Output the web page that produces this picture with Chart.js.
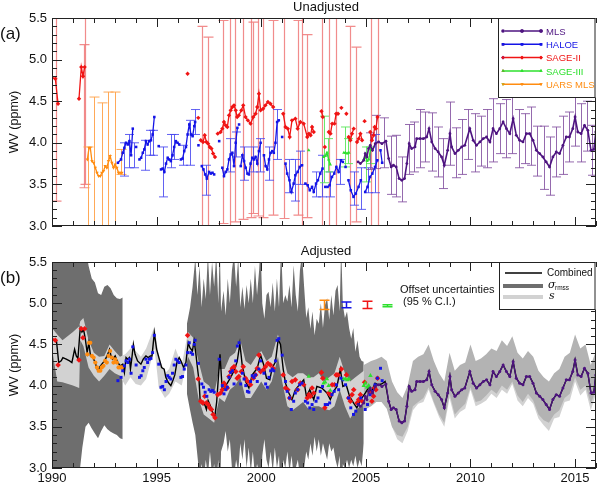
<!DOCTYPE html>
<html>
<head>
<meta charset="utf-8">
<script src="https://cdn.jsdelivr.net/npm/chart.js@4.4.1/dist/chart.umd.min.js"></script>
<style>
    html, body { margin: 0; padding: 0; background: #fff; }
    #wrap { width: 600px; height: 484px; }
    canvas { display: block; }
</style>
</head>
<body>
<div id="wrap">
    <canvas id="chartTop" width="600" height="242"></canvas>
    <canvas id="chartBottom" width="600" height="242"></canvas>
</div>
<script>
const FONT = "'Liberation Sans', Arial, Helvetica, sans-serif";

// ---- ejes
const xTickYears = [1990, 1995, 2000, 2005, 2010, 2015];
const yTickValues = [3.0, 3.5, 4.0, 4.5, 5.0, 5.5];

// ---- series sin ajustar (null = corte de la línea)
const mlsYear = [2004.63, 2004.74, 2004.90, 2004.97, 2005.05, 2005.13, 2005.21, 2005.32, 2005.45, 2005.61, 2005.77, 2005.96,
    2006.09, 2006.21, 2006.32, 2006.45, 2006.59, 2006.72, 2006.85, 2006.96, 2007.07, 2007.19, 2007.35, 2007.43, 2007.59,
    2007.75, 2007.91, 2008.02, 2008.15, 2008.31, 2008.46, 2008.62, 2008.75, 2008.91, 2009.02, 2009.10, 2009.26, 2009.42,
    2009.58, 2009.73, 2009.97, 2010.13, 2010.29, 2010.45, 2010.61, 2010.77, 2010.93, 2011.08, 2011.24, 2011.40, 2011.56,
    2011.72, 2011.88, 2012.04, 2012.19, 2012.35, 2012.51, 2012.67, 2012.83, 2012.99, 2013.15, 2013.31, 2013.46, 2013.62,
    2013.78, 2013.94, 2014.10, 2014.26, 2014.42, 2014.58, 2014.73, 2014.89, 2015.00, 2015.13, 2015.29, 2015.45, 2015.61,
    2015.76, 2015.90, 2015.99];
const mlsWV = [3.77, 3.75, 3.79, 3.87, 3.83, 3.93, 3.97, 3.91, 3.99, 4.01, 3.99, 4.02,
    3.81, 3.71, 3.73, 3.71, 3.57, 3.55, 3.57, 3.75, 3.99, 3.93, 3.95, 4.05, 4.05,
    4.05, 4.07, 4.17, 4.01, 3.93, 3.89, 3.83, 3.73, 3.91, 4.11, 3.95, 3.87, 3.91,
    3.95, 3.97, 4.17, 4.03, 3.97, 4.01, 4.05, 4.07, 4.01, 4.17, 4.11, 4.17, 4.25,
    4.17, 4.11, 4.29, 4.09, 4.03, 4.01, 4.11, 4.11, 4.03, 3.91, 3.87, 3.83, 3.77,
    3.71, 3.83, 3.89, 3.87, 3.97, 4.07, 4.07, 4.17, 4.31, 4.13, 4.11, 4.21, 4.15,
    3.91, 3.92, 4.13];

const haloeYear = [1993.15, 1993.30, 1993.38, 1993.46, 1993.54, 1993.62, 1993.70, 1993.78, 1993.86, 1993.94, 1994.02, 1994.10,
    1994.18, 1994.26, 1994.34, 1994.41, 1994.49, 1994.57, 1994.65, 1994.73, 1994.81, 1994.89, 1995.00, 1995.10, 1995.15,
    1995.21, 1995.29, 1995.37, 1995.45, 1995.53, 1995.60, 1995.68, 1995.76, 1995.84, 1995.92, 1996.00, 1996.08, 1996.12,
    1996.16, 1996.24, 1996.32, 1996.40, 1996.48, 1996.56, 1996.64, 1996.72, 1996.80, 1996.84, 1996.92, 1997.00, 1997.08,
    1997.16, 1997.24, 1997.32, 1997.40, 1997.51, 1997.59, 1997.67, 1997.75, 1997.87, 1997.99, 1998.06,
    1998.14, 1998.22, 1998.30, 1998.38, 1998.46, 1998.54, 1998.62, 1998.70, 1998.78, 1998.86, 1998.90, 1998.94, 1998.98,
    1999.02, 1999.10, 1999.18, 1999.26, 1999.34, 1999.41, 1999.49, 1999.57, 1999.65, 1999.73, 1999.81, 1999.89, 1999.97, 2000.05,
    2000.13, 2000.21, 2000.29, 2000.37, 2000.45, 2000.53, 2000.60, 2000.68, 2000.76, 2000.84, 2000.92, 2001.00, 2001.08,
    2001.16, 2001.24, 2001.35, 2001.44, 2001.55, 2001.63, 2001.74, 2001.84, 2001.95, 2002.03,
    2002.11, 2002.22, 2002.32, 2002.43, 2002.51, 2002.62, 2002.71, 2002.82, 2002.93, 2003.00,
    2003.06, 2003.17, 2003.27, 2003.38, 2003.49, 2003.59, 2003.70, 2003.81, 2003.90, 2003.96, 2004.03, 2004.10,
    2004.17, 2004.28, 2004.41, 2004.52, 2004.65, 2004.76, 2004.87,
    2004.97, 2005.08, 2005.20, 2005.31, 2005.44, 2005.55, 2005.62, 2005.70, 2005.78];
const haloeWV = [3.76, 3.80, 3.88, 3.94, 4.00, 3.98, 4.02, 3.85, 4.17, null, 3.95, null,
    3.80, 3.82, 3.88, 3.92, 4.02, 3.98, 4.02, 4.03, 4.10, 4.31, null, 3.96, null,
    3.68, 3.69, 3.65, 3.75, 3.82, 3.80, 3.78, 3.85, 3.95, 4.02, 4.00, 3.98, null,
    3.80, 3.81, 3.90, 3.95, 4.10, 4.22, 4.10, 4.08, 4.20, 4.25, null, 3.97, null,
    3.72, 3.68, 3.62, 3.57, 3.65, 3.63, 3.64, 3.62, null, 4.02, null,
    3.70, 3.60, 3.65, 3.68, 3.80, 3.86, 3.88, 3.72, 4.00, 4.18, null, 4.22, null,
    3.72, 3.85, 3.78, 3.70, 3.63, 3.62, 3.75, 3.82, 3.80, 3.83, 3.75, 3.90, 4.00, null,
    3.85, 3.72, 3.68, 3.80, 3.88, 3.90, 3.88, 4.00, 4.25, 4.27, null, 4.07, null,
    3.75, 3.63, 3.55, 3.41, 3.51, 3.61, 3.65, 3.71, 3.73, null,
    3.51, 3.49, 3.43, 3.47, 3.41, 3.51, 3.55, 3.63, 3.69, null,
    3.47, 3.47, 3.49, 3.59, 3.63, 3.71, 3.65, 3.79, 3.77, null, 3.71, null,
    3.55, 3.43, 3.35, 3.39, 3.47, 3.55, null,
    3.41, 3.47, 3.59, 3.63, 3.71, 3.79, null, 3.91, 3.76];

const sage2Year = [1990.00, 1990.16, 1990.29, 1990.80, 1991.29, 1991.40, 1991.48, 1991.56, 1992.00, 1996.48, 1996.75, 1996.99, 1997.05,
    1997.11, 1997.22, 1997.30, 1997.38, 1997.46, 1997.54, 1997.62, 1997.70, 1997.79, 1997.85,
    1997.92, 1998.06, 1998.14, 1998.22, 1998.30, 1998.38, 1998.46, 1998.54, 1998.62, 1998.70, 1998.78, 1998.85, 1998.93,
    1999.05, 1999.14, 1999.25, 1999.36, 1999.49, 1999.62, 1999.73, 1999.81, 1999.89, 1999.97, 2000.09, 2000.20, 2000.32,
    2000.44, 2000.57, 2000.80, 2001.05, 2001.16, 2001.27, 2001.36, 2001.47, 2001.63, 2001.74, 2001.87, 2002.03, 2002.20,
    2002.28, 2002.36, 2002.43, 2002.51, 2002.70, 2002.88, 2002.94, 2002.99, 2003.04, 2003.12, 2003.23, 2003.31, 2003.39,
    2003.50, 2003.58, 2003.67, 2003.75, 2003.83, 2003.95, 2004.07, 2004.12, 2004.18, 2004.26, 2004.34, 2004.42, 2004.50,
    2004.58, 2004.66, 2004.74, 2004.82, 2004.88, 2004.94, 2005.10, 2005.21, 2005.29, 2005.37, 2005.42, 2005.48, 2005.56];
const sage2WV = [4.78, 4.77, 4.47, null, 4.53, 4.91, 4.80, 4.91, null, 4.83, null, 4.30, null,
    4.03, 4.01, 4.09, 4.01, 3.99, 3.95, 3.93, 3.87, 3.83, null,
    4.11, 4.13, 4.17, 4.25, 4.21, 4.19, 4.33, 4.39, 4.43, 4.45, 4.39, 4.31, 4.33,
    4.39, 4.45, 4.31, 4.27, 4.23, 4.31, 4.35, 4.43, 4.59, 4.39, 4.41, 4.45, 4.49,
    4.47, 4.43, null, 4.35, 4.19, 4.17, 4.07, 4.27, 4.29, 4.17, 4.25, 4.23, 4.07,
    4.11, 4.09, 4.19, 4.13, null, 4.38, 4.31, null, 3.95, null, 4.13, 4.11, 4.23,
    4.23, 4.35, 4.35, null, 4.42, null, 4.35, null, 4.07, 4.03, 4.11, 4.17, null,
    4.01, 4.05, 4.11, 4.03, null, 4.26, null, 4.13, 4.03, 4.09, 4.19, 4.17, 4.31];

const sage3Year = [2002.27, 2002.60, 2002.98, 2003.06, 2003.14, 2003.22, 2003.30, 2003.60, 2003.95, 2004.03, 2004.11, 2004.19,
    2004.50, 2004.90, 2004.98, 2005.06, 2005.14, 2005.22];
const sage3WV = [3.91, null, 3.83, 3.84, 3.88, 3.80, 3.74, null, 3.88, 3.88, 3.87, 3.88,
    null, 3.80, 3.83, 3.78, 3.80, 3.92];

const uarsYear = [1991.69, 1991.77, 1991.83, 1991.91, 1991.99, 1992.07, 1992.15, 1992.23, 1992.31, 1992.38, 1992.46,
    1992.54, 1992.62, 1992.70, 1992.78, 1992.86, 1992.94, 1993.02, 1993.10, 1993.18, 1993.26, 1993.34];
const uarsWV = [3.80, 3.94, 3.94, 3.78, 3.76, 3.70, 3.64, 3.60, 3.60, 3.64, 3.66,
    3.72, 3.70, 3.78, 3.84, 3.76, 3.70, 3.74, 3.70, 3.64, 3.64, 3.64];

// ---- barras de error: [año, centro, semiancho]
const mlsErr = [[2005.20, 3.90, 0.22], [2005.50, 4.01, 0.32], [2005.85, 4.00, 0.30], [2006.20, 3.73, 0.35], [2006.45, 3.72, 0.37],
    [2006.75, 3.56, 0.27], [2007.05, 3.92, 0.30], [2007.30, 3.95, 0.30], [2007.60, 4.05, 0.35], [2007.85, 4.07, 0.30],
    [2008.15, 4.01, 0.35], [2008.45, 3.89, 0.30], [2008.70, 3.75, 0.30], [2009.00, 4.11, 0.38], [2009.30, 3.88, 0.30],
    [2009.60, 3.95, 0.33], [2009.90, 4.10, 0.30], [2010.20, 4.00, 0.35], [2010.50, 4.02, 0.30], [2010.80, 4.05, 0.35],
    [2011.10, 4.15, 0.38], [2011.40, 4.17, 0.30], [2011.70, 4.17, 0.35], [2012.00, 4.25, 0.38], [2012.30, 4.05, 0.35],
    [2012.60, 4.05, 0.30], [2012.90, 4.08, 0.35], [2013.20, 3.90, 0.30], [2013.50, 3.82, 0.38], [2013.80, 3.72, 0.35],
    [2014.10, 3.89, 0.30], [2014.40, 3.97, 0.35], [2014.70, 4.07, 0.30], [2015.00, 4.31, 0.35], [2015.30, 4.12, 0.35],
    [2015.55, 4.20, 0.30], [2015.80, 3.91, 0.30]];
const haloeErr = [[1993.45, 3.80, 0.20], [1993.70, 3.90, 0.20], [1993.90, 3.85, 0.15], [1994.45, 3.85, 0.18], [1994.70, 4.00, 0.15],
    [1994.85, 4.00, 0.15], [1995.30, 3.65, 0.30], [1995.70, 3.90, 0.20], [1995.85, 3.95, 0.15], [1996.25, 3.85, 0.12],
    [1996.60, 4.00, 0.27], [1996.85, 4.25, 0.15], [1997.35, 3.55, 0.18], [1998.50, 3.85, 0.20], [1998.80, 3.98, 0.15],
    [1999.20, 3.75, 0.20], [1999.60, 3.80, 0.15], [1999.95, 3.85, 0.20], [2000.35, 3.75, 0.20], [2000.75, 4.10, 0.30],
    [2001.35, 3.60, 0.20], [2001.60, 3.55, 0.25], [2001.85, 3.70, 0.20], [2002.60, 3.50, 0.15], [2002.90, 3.60, 0.25],
    [2003.30, 3.50, 0.15], [2003.75, 3.65, 0.15], [2004.45, 3.45, 0.20], [2004.75, 3.45, 0.25], [2005.10, 3.55, 0.15],
    [2005.45, 3.75, 0.35]];
const sage2Err = [[1990.18, 4.45, 1.15], [1991.55, 4.32, 0.86], [1991.60, 4.60, 1.10], [1997.17, 4.20, 1.20], [1997.45, 4.13, 1.14],
    [1998.15, 4.25, 1.22], [1998.50, 4.30, 1.30], [1998.75, 4.35, 1.30], [1999.15, 4.30, 1.22], [1999.50, 4.40, 1.30],
    [1999.62, 4.30, 1.15], [1999.85, 4.40, 1.28], [2000.10, 4.40, 1.30], [2000.55, 4.30, 1.17], [2001.10, 4.35, 1.26],
    [2001.75, 4.30, 1.17], [2001.95, 4.30, 1.30], [2002.20, 4.20, 1.10], [2002.90, 4.30, 1.30], [2003.25, 4.30, 1.30],
    [2003.55, 4.30, 1.30], [2004.25, 4.20, 1.20], [2004.55, 4.10, 1.05], [2005.25, 4.20, 1.30], [2005.56, 4.30, 1.30]];
const sage3Err = [[2003.00, 3.92, 0.40], [2003.20, 3.85, 0.20], [2004.00, 3.95, 0.24], [2004.15, 3.90, 0.15],
    [2005.00, 3.74, 0.21], [2005.20, 3.85, 0.10]];
const uarsErr = [[1991.72, 3.20, 0.75], [1992.00, 3.75, 0.80], [1992.38, 3.65, 0.83], [1992.70, 3.78, 0.83],
    [1993.02, 3.75, 0.86], [1993.30, 3.77, 0.15]];

// ---- desplazamientos aplicados a cada instrumento (panel b)
const offsetHALOE = 0.30;
const offsetSAGE2 = -0.22;
const offsetSAGE3 = 0.20;
const offsetUARS = 0.58;
const offsetMLS = 0.0;

// ---- serie combinada (antes de 2006; después sigue a MLS)
const combYear = [1990.05, 1990.21, 1990.32, 1990.44, 1990.52, 1990.68, 1990.84, 1990.95, 1991.08, 1991.16, 1991.24, 1991.35,
    1991.43, 1991.51, 1991.59, 1991.68, 1991.76, 1991.84, 1991.95, 1992.03, 1992.11, 1992.19, 1992.27, 1992.38, 1992.51,
    1992.63, 1992.75, 1992.82, 1992.90, 1993.02, 1993.14, 1993.27, 1993.38, 1993.46, 1993.54, 1993.62, 1993.70, 1993.75,
    1993.81, 1993.89, 1993.97, 1994.09, 1994.25, 1994.36, 1994.49, 1994.60, 1994.70, 1994.78, 1994.89, 1995.00, 1995.13,
    1995.24, 1995.36, 1995.44, 1995.55, 1995.68, 1995.79, 1995.87, 1995.97, 1996.08, 1996.16, 1996.29, 1996.40, 1996.51,
    1996.59, 1996.71, 1996.79, 1996.87, 1996.95, 1997.03, 1997.08, 1997.19, 1997.30, 1997.38, 1997.46, 1997.59, 1997.67,
    1997.78, 1997.87, 1998.03, 1998.14, 1998.22, 1998.38, 1998.54, 1998.70, 1998.85, 1998.98, 1999.09, 1999.25, 1999.41,
    1999.57, 1999.81, 1999.97, 2000.12, 2000.25, 2000.41, 2000.52, 2000.68, 2000.81, 2000.92, 2001.05, 2001.16, 2001.32,
    2001.47, 2001.63, 2001.79, 2002.03, 2002.16, 2002.32, 2002.51, 2002.66, 2002.90, 2003.14, 2003.30, 2003.46, 2003.62,
    2003.78, 2003.90, 2004.06, 2004.22, 2004.41, 2004.57, 2004.76, 2004.97, 2005.12, 2005.28, 2005.44, 2005.60, 2005.76,
    2005.92];
const combWV = [4.56, 4.55, 4.28, 4.30, 4.34, 4.32, 4.30, 4.28, 4.44, 4.36, 4.33, 4.70,
    4.65, 4.68, 4.57, 4.40, 4.52, 4.36, 4.34, 4.30, 4.24, 4.18, 4.22, 4.26, 4.30,
    4.36, 4.44, 4.36, 4.32, 4.36, 4.28, 4.24, 4.26, 4.16, 4.34, 4.32, 4.34, 4.20,
    4.32, 4.50, 4.38, 4.30, 4.26, 4.32, 4.36, 4.34, 4.36, 4.36, 4.64, 4.44, 4.32,
    4.22, 4.20, 4.10, 4.04, 4.00, 4.07, 4.13, 4.28, 4.34, 4.30, 4.22, 4.28, 4.52,
    4.46, 4.42, 4.54, 4.40, 4.22, 4.05, 3.82, 3.77, 3.77, 3.71, 3.82, 3.74, 3.68,
    3.62, 3.80, 4.38, 3.93, 3.97, 4.03, 4.10, 4.18, 4.29, 4.51, 4.25, 4.05, 3.97,
    4.13, 4.21, 4.37, 4.25, 4.09, 4.07, 4.21, 4.29, 4.56, 4.50, 4.20, 4.03, 3.91,
    3.83, 3.95, 4.00, 4.07, 3.87, 3.95, 3.83, 3.99, 3.97, 3.91, 3.83, 3.93, 3.99,
    4.20, 3.99, 4.01, 3.87, 3.79, 3.73, 3.83, 3.91, 3.97, 3.93, 4.03, 4.01, 4.02,
    4.05];

// ---- banda s (gris claro)
const sYear = [1990.00, 1990.25, 1990.50, 1991.00, 1991.30, 1991.35, 1991.50, 1991.75, 1992.00, 1992.25, 1992.50, 1992.75,
    1993.00, 1993.25, 1993.50, 1993.75, 1994.00, 1994.25, 1994.50, 1994.90, 1995.10, 1995.40, 1995.60, 1995.90, 1996.20,
    1996.50, 1996.75, 1997.00, 1997.25, 1997.50, 1997.75, 1998.00, 1998.25, 1998.50, 1998.75, 1999.00, 1999.25, 1999.50,
    1999.75, 2000.00, 2000.25, 2000.50, 2000.80, 2001.00, 2001.25, 2001.50, 2001.75, 2002.00, 2002.25, 2002.50, 2002.75,
    2003.00, 2003.25, 2003.50, 2003.75, 2004.00, 2004.25, 2004.50, 2004.75, 2005.00, 2005.25, 2005.50, 2005.75, 2006.00,
    2006.25, 2006.50, 2006.75, 2007.00, 2007.25, 2007.50, 2007.75, 2008.00, 2008.25, 2008.50, 2008.75, 2009.00, 2009.25,
    2009.50, 2009.75, 2010.00, 2010.25, 2010.50, 2010.75, 2011.00, 2011.25, 2011.50, 2011.75, 2012.00, 2012.25, 2012.50,
    2012.75, 2013.00, 2013.25, 2013.50, 2013.75, 2014.00, 2014.25, 2014.50, 2014.75, 2015.00, 2015.25, 2015.50, 2015.75,
    2016.00];
const sHigh = [4.70, 4.62, 4.55, 4.65, 4.72, 4.78, 4.82, 4.55, 4.40, 4.35, 4.36, 4.50,
    4.42, 4.35, 4.38, 4.45, 4.42, 4.35, 4.45, 4.72, 4.35, 4.15, 4.20, 4.45, 4.25,
    4.65, 4.58, 4.30, 4.05, 4.00, 3.90, 4.20, 4.20, 4.35, 4.40, 4.55, 4.30, 4.25,
    4.35, 4.42, 4.30, 4.35, 4.62, 4.40, 4.15, 4.10, 4.15, 4.15, 4.10, 4.10, 4.15,
    4.05, 4.10, 4.15, 4.35, 4.15, 4.05, 4.10, 4.15, 4.20, 4.25, 4.28, 4.30, 4.25,
    4.00, 3.85, 3.78, 3.95, 4.25, 4.30, 4.32, 4.45, 4.25, 4.10, 4.00, 4.35, 4.12,
    4.20, 4.22, 4.45, 4.25, 4.28, 4.32, 4.40, 4.38, 4.50, 4.42, 4.55, 4.35, 4.28,
    4.38, 4.30, 4.12, 4.05, 3.98, 4.10, 4.15, 4.30, 4.35, 4.58, 4.40, 4.45, 4.20,
    4.38];
const sLow = [4.45, 4.05, 4.04, 4.00, 3.97, 4.55, 4.48, 4.22, 4.12, 4.05, 4.12, 4.20,
    4.15, 4.12, 4.00, 4.10, 4.02, 4.00, 4.08, 4.45, 3.98, 3.85, 3.90, 4.05, 4.00,
    4.35, 4.22, 3.85, 3.65, 3.60, 3.55, 3.85, 3.80, 3.95, 4.00, 4.10, 3.85, 3.85,
    3.95, 4.05, 3.95, 4.05, 4.35, 4.05, 3.75, 3.70, 3.75, 3.80, 3.72, 3.75, 3.75,
    3.72, 3.70, 3.75, 3.95, 3.75, 3.60, 3.70, 3.75, 3.80, 3.80, 3.85, 3.85, 3.75,
    3.50, 3.35, 3.30, 3.45, 3.70, 3.78, 3.80, 3.95, 3.78, 3.62, 3.50, 3.85, 3.60,
    3.68, 3.72, 3.95, 3.75, 3.78, 3.82, 3.90, 3.85, 3.95, 3.90, 4.02, 3.82, 3.75,
    3.85, 3.78, 3.60, 3.52, 3.45, 3.60, 3.62, 3.80, 3.82, 4.05, 3.88, 3.95, 3.70,
    3.90];

// ---- banda sigma_rmss (gris oscuro), null = sin banda
const sigYear = [1990.00, 1990.30, 1990.60, 1991.00, 1991.30, 1991.45, 1991.60, 1991.75, 1991.90, 1992.05, 1992.20, 1992.35,
    1992.50, 1992.65, 1992.80, 1992.95, 1993.10, 1993.25, 1993.38, 1994.00,
    1996.45, 1996.60, 1996.72, 1996.85, 1996.95, 1997.05, 1997.15, 1997.25, 1997.35, 1997.45, 1997.55, 1997.65, 1997.75,
    1997.85, 1997.95, 1998.02, 1998.08, 1998.20, 1998.30, 1998.40, 1998.50, 1998.60, 1998.70, 1998.80, 1998.90, 1999.00,
    1999.10, 1999.20, 1999.30, 1999.40, 1999.50, 1999.60, 1999.70, 1999.80, 1999.90, 1999.97, 2000.05, 2000.15, 2000.25,
    2000.35, 2000.45, 2000.55, 2000.65, 2000.75, 2000.85, 2000.95, 2001.05, 2001.15, 2001.25, 2001.35, 2001.45, 2001.55,
    2001.65, 2001.75, 2001.85, 2001.95, 2002.05, 2002.15, 2002.25, 2002.35, 2002.45, 2002.55, 2002.65, 2002.75, 2002.85,
    2002.95, 2003.05, 2003.15, 2003.25, 2003.35, 2003.45, 2003.55, 2003.65, 2003.75, 2003.82, 2003.90, 2004.00, 2004.10,
    2004.20, 2004.30, 2004.40, 2004.50, 2004.60, 2004.70, 2004.80, 2004.90];
const sigHigh = [5.80, 5.80, 5.80, 5.80, 5.80, 5.80, 5.70, 5.45, 5.30, 5.25, 5.12, 5.10,
    5.20, 5.22, 5.18, 5.10, 5.06, 5.05, 5.07, null,
    4.75, 4.95, 5.20, 5.55, 5.10, 5.45, 4.95, 5.30, 5.05, 5.60, 5.10, 5.50, 5.20,
    5.60, 5.00, 5.70, 4.90, 5.15, 4.85, 5.30, 5.00, 5.40, 5.60, 5.20, 5.55, 4.95,
    5.20, 4.93, 5.22, 5.00, 5.30, 5.00, 5.45, 5.10, 5.40, 5.70, 5.00, 4.81, 5.10,
    5.14, 4.95, 5.25, 4.90, 5.30, 4.95, 5.70, 5.00, 5.10, 5.02, 5.22, 4.95, 5.46,
    5.10, 4.90, 5.40, 5.60, 5.20, 4.82, 4.95, 4.69, 4.90, 4.61, 4.81, 4.75, 5.00,
    4.70, 4.98, 5.06, 4.80, 5.10, 4.85, 5.15, 5.22, 4.90, 5.70, 4.98, 4.82, 4.90,
    4.70, 4.57, 4.70, 4.41, 4.55, 4.35, 4.30, 4.29];
const sigLow = [2.90, 2.90, 2.90, 2.95, 2.90, 3.25, 3.50, 3.55, 3.48, 3.42, 3.36, 3.45,
    3.52, 3.47, 3.44, 3.42, 3.40, 3.36, 3.35, null,
    3.90, 3.70, 3.55, 3.40, 3.15, 2.90, 3.05, 2.85, 3.10, 2.90, 3.20, 2.90, 3.05,
    2.85, 3.10, 2.50, 3.20, 3.30, 3.45, 3.20, 3.35, 3.00, 2.90, 3.10, 2.95, 3.30,
    3.10, 3.35, 3.00, 3.25, 2.95, 3.20, 2.90, 3.05, 2.95, 2.50, 3.15, 3.35, 3.10,
    3.00, 3.20, 2.95, 3.25, 3.00, 3.15, 2.50, 3.10, 3.00, 3.20, 2.95, 3.15, 2.90,
    3.00, 3.10, 2.90, 2.90, 3.00, 3.20, 3.10, 3.30, 3.15, 3.38, 3.20, 3.35, 3.15,
    3.30, 3.20, 3.10, 3.30, 3.20, 3.25, 3.10, 3.00, 3.15, 2.50, 3.05, 3.00, 3.10,
    3.00, 3.10, 3.02, 3.15, 3.00, 3.10, 3.02, 3.30];

// sigma_rmss en el periodo MLS (gris medio)
const sigLateYear = [2004.90, 2005.25, 2005.50, 2005.75, 2006.00, 2006.25, 2006.50, 2006.75, 2007.00, 2007.25, 2007.50,
    2007.75, 2008.00, 2008.25, 2008.50, 2008.75, 2009.00, 2009.25, 2009.50, 2009.75, 2010.00, 2010.25, 2010.50, 2010.75,
    2011.00, 2011.25, 2011.50, 2011.75, 2012.00, 2012.25, 2012.50, 2012.75, 2013.00, 2013.25, 2013.50, 2013.75, 2014.00,
    2014.25, 2014.50, 2014.75, 2015.00, 2015.25, 2015.50, 2015.75, 2016.00];
const sigLateHigh = [4.25, 4.30, 4.32, 4.35, 4.30, 4.05, 3.92, 3.85, 4.00, 4.30, 4.35,
    4.38, 4.50, 4.30, 4.15, 4.05, 4.40, 4.18, 4.25, 4.28, 4.50, 4.30, 4.33, 4.38,
    4.45, 4.42, 4.55, 4.48, 4.60, 4.40, 4.33, 4.42, 4.35, 4.18, 4.10, 4.05, 4.15,
    4.20, 4.35, 4.40, 4.62, 4.45, 4.50, 4.25, 4.42];
const sigLateLow = [3.70, 3.75, 3.80, 3.80, 3.72, 3.50, 3.40, 3.38, 3.50, 3.75, 3.80,
    3.85, 3.98, 3.80, 3.65, 3.55, 3.90, 3.65, 3.72, 3.78, 3.98, 3.80, 3.82, 3.88,
    3.95, 3.90, 4.00, 3.95, 4.05, 3.88, 3.80, 3.90, 3.82, 3.65, 3.58, 3.55, 3.65,
    3.70, 3.85, 3.90, 4.10, 3.95, 4.00, 3.78, 3.95];

// ---- incertidumbre de los desplazamientos (95 % C.I.)
const offsetBarYear = [2003.00, 2004.05, 2005.05, 2006.00];
const offsetBarCentre = [4.98, 4.98, 4.98, 4.97];
const offsetBarHalf = [0.055, 0.035, 0.045, 0.012];

// ---- colores
const colMLS = '#4e1480';
const colHALOE = '#1414e6';
const colSAGE2 = '#f01414';
const colSAGE3 = '#2ee02e';
const colUARS = '#ff8c10';
const legendNames = ['MLS', 'HALOE', 'SAGE-II', 'SAGE-III', 'UARS MLS'];
const legendColors = [colMLS, colHALOE, colSAGE2, colSAGE3, colUARS];
const legendPoints = ['circle', 'rect', 'rectRot', 'triangle', 'triangle'];

function puntos(xs, ys, off) {
    off = off || 0;
    return xs.map((x, i) => ({ x: x, y: ys[i] === null ? null : ys[i] + off }));
}

function serie(label, xs, ys, color, pstyle, extra) {
    return Object.assign({
        label: label,
        type: 'line',
        data: puntos(xs, ys),
        borderColor: color,
        backgroundColor: color,
        borderWidth: 1.3,
        pointRadius: 1.8,
        pointStyle: pstyle,
        pointBorderWidth: 0,
        pointBackgroundColor: color,
        tension: 0,
        fill: false,
        spanGaps: false
    }, extra || {});
}

function marcas(label, xs, ys, off, color, pstyle, radius, extra) {
    return Object.assign({
        label: label,
        type: 'line',
        data: puntos(xs, ys, off),
        showLine: false,
        borderColor: color,
        backgroundColor: color,
        pointRadius: radius,
        pointStyle: pstyle,
        pointBorderWidth: 0,
        pointBackgroundColor: color,
        fill: false
    }, extra || {});
}

// bandas: parte por null en tramos
function banda(xs, hi, lo, color, order) {
    const tramos = [];
    let actual = null;
    xs.forEach((x, i) => {
        if (hi[i] === null) { actual = null; return; }
        if (!actual) { actual = { hi: [], lo: [] }; tramos.push(actual); }
        actual.hi.push({ x: x, y: hi[i] });
        actual.lo.push({ x: x, y: lo[i] });
    });
    const out = [];
    tramos.forEach(t => {
        out.push({ type: 'line', data: t.hi, borderColor: 'rgba(0,0,0,0)', borderWidth: 1, pointRadius: 0, fill: false, order: order + 1 });
        out.push({ type: 'line', data: t.lo, borderColor: 'rgba(0,0,0,0)', borderWidth: 1, pointRadius: 0, fill: '-1', backgroundColor: color, order: order });
    });
    return out;
}

function barrasError(sets) {
    return {
        id: 'barrasError',
        beforeDatasetsDraw(chart) {
            const { ctx, chartArea: a, scales: { x, y } } = chart;
            ctx.save();
            ctx.beginPath();
            ctx.rect(a.left, a.top, a.right - a.left, a.bottom - a.top);
            ctx.clip();
            sets.forEach(s => {
                ctx.strokeStyle = s.color;
                ctx.lineWidth = s.width;
                s.data.forEach(e => {
                    const px = Math.round(x.getPixelForValue(e[0])) + 0.5;
                    const t = y.getPixelForValue(e[1] + e[2]);
                    const b = y.getPixelForValue(e[1] - e[2]);
                    ctx.beginPath();
                    ctx.moveTo(px, t); ctx.lineTo(px, b);
                    ctx.moveTo(px - s.cap, t); ctx.lineTo(px + s.cap, t);
                    ctx.moveTo(px - s.cap, b); ctx.lineTo(px + s.cap, b);
                    ctx.stroke();
                });
            });
            ctx.restore();
        }
    };
}

// marco con marcas hacia dentro en los cuatro lados
const marco = {
    id: 'marco',
    afterDatasetsDraw(chart) {
        const { ctx, chartArea: a, scales: { x, y } } = chart;
        ctx.save();
        ctx.strokeStyle = '#222';
        ctx.lineWidth = 1;
        ctx.beginPath();
        for (let v = 30; v <= 55; v++) {
            const py = Math.round(y.getPixelForValue(v / 10)) + 0.5;
            const len = v % 5 === 0 ? 10 : 5;
            ctx.moveTo(a.left, py); ctx.lineTo(a.left + len, py);
            ctx.moveTo(a.right, py); ctx.lineTo(a.right - len, py);
        }
        for (let yr = 1990; yr <= 2016; yr++) {
            const px = Math.round(x.getPixelForValue(yr)) + 0.5;
            const len = yr % 5 === 0 ? 9 : 5;
            ctx.moveTo(px, a.top); ctx.lineTo(px, a.top + len);
            ctx.moveTo(px, a.bottom); ctx.lineTo(px, a.bottom - len);
        }
        ctx.stroke();
        ctx.strokeRect(a.left + 0.5, a.top + 0.5, a.right - a.left - 1, a.bottom - a.top - 1);
        ctx.restore();
    }
};

function textos(panel, titulo) {
    return {
        id: 'textos',
        afterDraw(chart) {
            const { ctx, chartArea: a } = chart;
            ctx.save();
            ctx.fillStyle = '#111';
            ctx.font = '13px ' + FONT;
            ctx.textAlign = 'center';
            ctx.textBaseline = 'middle';
            ctx.fillText(titulo, 326, a.top - 11);
            ctx.font = '17px ' + FONT;
            ctx.textAlign = 'left';
            ctx.fillText(panel, 0, a.top + 16);
            ctx.translate(15, (a.top + a.bottom) / 2);
            ctx.rotate(-Math.PI / 2);
            ctx.textAlign = 'center';
            ctx.font = '12.5px ' + FONT;
            ctx.fillText('WV (ppmv)', 0, 0);
            ctx.restore();
        }
    };
}

const leyendaArriba = {
    id: 'leyendaArriba',
    afterDraw(chart) {
        const { ctx, chartArea: a } = chart;
        ctx.save();
        const x0 = 498.5, y0 = a.top + 0.5;
        ctx.fillStyle = '#fff';
        ctx.fillRect(x0, y0, a.right - x0, 79);
        ctx.strokeStyle = '#222';
        ctx.lineWidth = 1;
        ctx.strokeRect(x0, y0, a.right - x0 - 1, 79);
        ctx.font = '9.5px ' + FONT;
        ctx.textBaseline = 'middle';
        legendNames.forEach((n, i) => {
            const yy = a.top + 13 + i * 13.3;
            ctx.strokeStyle = legendColors[i];
            ctx.lineWidth = 1.5;
            ctx.beginPath();
            ctx.moveTo(503, yy); ctx.lineTo(541, yy);
            ctx.stroke();
            [503, 522, 541].forEach(px => {
                Chart.helpers.drawPoint(ctx, {
                    pointStyle: legendPoints[i], radius: 1.8, borderWidth: 0,
                    rotation: i === 4 ? 180 : 0
                }, px, yy);
                ctx.fillStyle = legendColors[i];
                ctx.fill();
            });
            ctx.fillStyle = legendColors[i];
            ctx.fillText(n, 546, yy + 1);
        });
        ctx.restore();
    }
};

const leyendaAbajo = {
    id: 'leyendaAbajo',
    afterDraw(chart) {
        const { ctx, chartArea: a, scales: { x, y } } = chart;
        ctx.save();
        const x0 = 499.5, y0 = a.top + 0.5;
        ctx.fillStyle = '#fff';
        ctx.fillRect(x0, y0, a.right - x0, 47);
        ctx.strokeStyle = '#222';
        ctx.lineWidth = 1;
        ctx.strokeRect(x0, y0, a.right - x0 - 1, 47);
        ctx.strokeStyle = '#000';
        ctx.lineWidth = 1.5;
        ctx.beginPath();
        ctx.moveTo(505, a.top + 11); ctx.lineTo(542, a.top + 11);
        ctx.stroke();
        ctx.fillStyle = '#6e6e6e';
        ctx.fillRect(503, a.top + 22, 40, 4);
        ctx.fillStyle = '#d2d2d2';
        ctx.fillRect(503, a.top + 33, 40, 4);
        ctx.fillStyle = '#111';
        ctx.textBaseline = 'middle';
        ctx.font = '10px ' + FONT;
        ctx.fillText('Combined', 547, a.top + 11);
        ctx.font = 'italic 11px "DejaVu Serif", "Liberation Serif", serif';
        ctx.fillText('σ', 548, a.top + 23);
        ctx.fillText('s', 549, a.top + 34);
        ctx.font = '6.5px ' + FONT;
        ctx.fillText('rmss', 555, a.top + 26);

        // incertidumbres de los desplazamientos
        const colores = [colUARS, colHALOE, colSAGE2, colSAGE3];
        ctx.lineWidth = 1.5;
        offsetBarYear.forEach((yr, i) => {
            const px = Math.round(x.getPixelForValue(yr)) + 0.5;
            const t = y.getPixelForValue(offsetBarCentre[i] + offsetBarHalf[i]);
            const b = y.getPixelForValue(offsetBarCentre[i] - offsetBarHalf[i]);
            ctx.strokeStyle = colores[i];
            ctx.beginPath();
            ctx.moveTo(px, t); ctx.lineTo(px, b);
            ctx.moveTo(px - 5, t); ctx.lineTo(px + 5, t);
            ctx.moveTo(px - 5, b); ctx.lineTo(px + 5, b);
            ctx.stroke();
        });
        ctx.fillStyle = '#111';
        ctx.font = '11px ' + FONT;
        ctx.textAlign = 'left';
        ctx.fillText('Offset uncertainties', 400, a.top + 28);
        ctx.fillText('(95 % C.I.)', 403, a.top + 40);
        ctx.restore();
    }
};

function escalas(conEtiquetasX) {
    return {
        x: {
            type: 'linear',
            min: 1990,
            max: 2016,
            afterBuildTicks: s => { s.ticks = xTickYears.map(v => ({ value: v })); },
            afterFit: s => { s.height = 16; },
            grid: { display: false, drawTicks: false },
            border: { display: false },
            ticks: {
                display: conEtiquetasX,
                padding: 3,
                maxRotation: 0,
                color: '#111',
                font: { family: FONT, size: 13 },
                callback: v => String(v)
            }
        },
        y: {
            type: 'linear',
            min: 3.0,
            max: 5.5,
            afterBuildTicks: s => { s.ticks = yTickValues.map(v => ({ value: v })); },
            afterFit: s => { s.width = 52; },
            grid: { display: false, drawTicks: false },
            border: { display: false },
            ticks: {
                padding: 5,
                color: '#111',
                font: { family: FONT, size: 13 },
                callback: v => v.toFixed(1)
            }
        }
    };
}

function opcionesBase(conEtiquetasX, arriba) {
    return {
        responsive: false,
        animation: false,
        devicePixelRatio: 1,
        layout: { padding: { left: 0, right: 2, top: arriba, bottom: 0 } },
        plugins: { legend: { display: false }, tooltip: { enabled: false }, title: { display: false } },
        scales: escalas(conEtiquetasX)
    };
}

// ---------- panel (a)
new Chart(document.getElementById('chartTop'), {
    type: 'line',
    data: {
        datasets: [
            serie('MLS', mlsYear, mlsWV, colMLS, 'circle', { order: 1, pointRadius: 1.4, borderWidth: 1.6 }),
            serie('UARS MLS', uarsYear, uarsWV, colUARS, 'triangle', { order: 2, pointRotation: 180, pointRadius: 2 }),
            serie('SAGE-III', sage3Year, sage3WV, colSAGE3, 'triangle', { order: 3, pointRadius: 2 }),
            serie('SAGE-II', sage2Year, sage2WV, colSAGE2, 'rectRot', { order: 4, pointRadius: 2.2 }),
            serie('HALOE', haloeYear, haloeWV, colHALOE, 'rect', { order: 5, pointRadius: 1.8 })
        ]
    },
    options: opcionesBase(false, 18),
    plugins: [
        barrasError([
            { data: sage2Err, color: 'rgba(238,120,120,0.85)', width: 1.2, cap: 5 },
            { data: uarsErr, color: 'rgba(255,160,70,0.9)', width: 1, cap: 5 },
            { data: haloeErr, color: 'rgba(70,70,240,0.85)', width: 1, cap: 4.5 },
            { data: sage3Err, color: 'rgba(90,230,90,0.9)', width: 1, cap: 4.5 },
            { data: mlsErr, color: 'rgba(130,80,160,0.85)', width: 1, cap: 4.5 }
        ]),
        marco, textos('(a)', 'Unadjusted'), leyendaArriba
    ]
});

// ---------- panel (b)
const combPts = puntos(combYear, combWV).concat(puntos(mlsYear, mlsWV).filter(p => p.x > 2006));
const datasetsB = [
    marcas('MLS', mlsYear, mlsWV, offsetMLS, colMLS, 'circle', 1.5, { order: 1, showLine: true, borderWidth: 1.3 }),
    marcas('SAGE-III', sage3Year, sage3WV, offsetSAGE3, colSAGE3, 'triangle', 2.6, { order: 2 }),
    marcas('HALOE', haloeYear, haloeWV, offsetHALOE, colHALOE, 'rect', 2.1, { order: 3 }),
    marcas('SAGE-II', sage2Year, sage2WV, offsetSAGE2, colSAGE2, 'rectRot', 2.8, { order: 4 }),
    marcas('UARS MLS', uarsYear, uarsWV, offsetUARS, colUARS, 'circle', 2.1, { order: 5 }),
    { label: 'Combined', type: 'line', data: combPts, borderColor: '#000', borderWidth: 1.4, pointRadius: 0, tension: 0, fill: false, order: 10 }
].concat(
    banda(sigLateYear, sigLateHigh, sigLateLow, '#b3b3b3', 20),
    banda(sYear, sHigh, sLow, '#d2d2d2', 30),
    banda(sigYear, sigHigh, sigLow, '#6e6e6e', 40)
);

new Chart(document.getElementById('chartBottom'), {
    type: 'line',
    data: { datasets: datasetsB },
    options: opcionesBase(true, 20),
    plugins: [marco, textos('(b)', 'Adjusted'), leyendaAbajo]
});
</script>
</body>
</html>
